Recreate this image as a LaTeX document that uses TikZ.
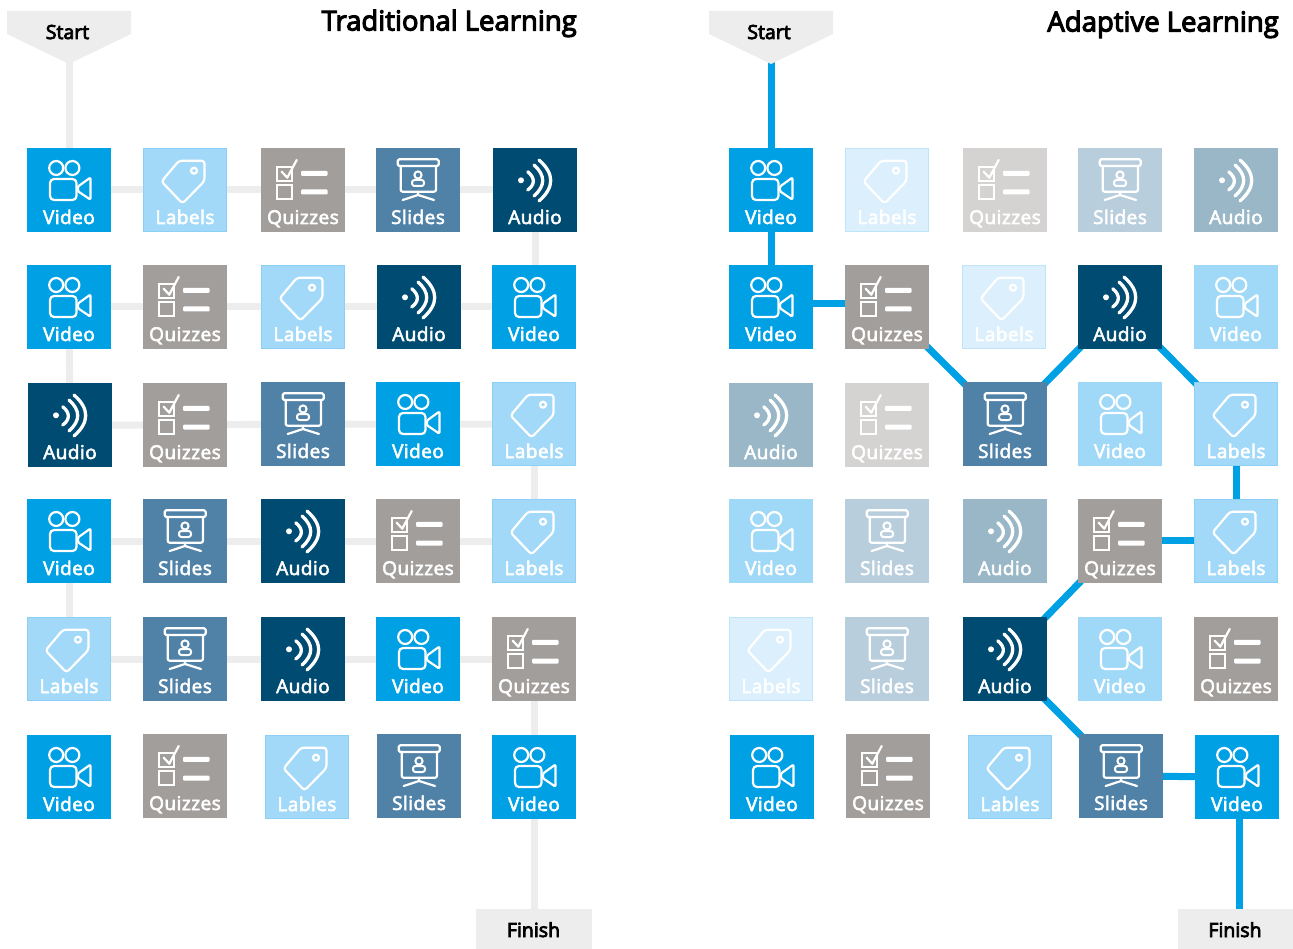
\documentclass[tikz,border=0pt]{standalone}
\usepackage{fontspec}
\setmainfont{Open Sans}
\newfontfamily\headfont[FakeBold=4]{Open Sans}
\newfontfamily\tilefont[FakeBold=3,LetterSpace=2.5]{Open Sans}
\usetikzlibrary{backgrounds}
\definecolor{videoc}{HTML}{00A0E4}
\definecolor{labelc}{HTML}{A3D9F8}
\definecolor{quizc}{HTML}{A29E9C}
\definecolor{slidec}{HTML}{5081A7}
\definecolor{audioc}{HTML}{004B71}
\definecolor{videof}{HTML}{A0D9F7}
\definecolor{labelf}{HTML}{DCEFFC}
\definecolor{quizf}{HTML}{D5D3D2}
\definecolor{slidef}{HTML}{B9CEDD}
\definecolor{audiof}{HTML}{99B7C6}
\definecolor{panelgrey}{HTML}{EDEDED}
\tikzset{
  tilebox/.style={rectangle,anchor=north west,minimum width=84pt,minimum height=84pt,inner sep=0pt,outer sep=0pt},
  tiletext/.style={text=white,font=\tilefont\fontsize{19}{20}\selectfont,inner sep=0pt,anchor=base},
  iconline/.style={draw=white,line width=2.2pt,line join=round,line cap=round},
  markertext/.style={text=black,font=\headfont\fontsize{19.5}{22}\selectfont,inner sep=0pt,anchor=base},
  titletext/.style={text=black,font=\headfont\fontsize{27.5}{28}\selectfont,inner sep=0pt,anchor=base east},
  greyline/.style={draw=panelgrey,line width=7pt},
  blueline/.style={draw=videoc,line width=7pt},
  markerfill/.style={fill=panelgrey,draw=none}
}
\newcommand\iconvideo{%
  \draw[iconline] (29.2,20) circle[radius=7];
  \draw[iconline] (45.4,20) circle[radius=7];
  \draw[iconline,rounded corners=4pt] (23,31) rectangle (49.5,52);
  \draw[iconline,rounded corners=1.2pt] (51,38.5) -- (63.5,29.5) -- (63.5,51.7) -- (51,43.3) -- cycle;
}
\newcommand\iconlabels{%
  \draw[draw=\tilecol!86!videoc,line width=1pt] (0.5,0.5) rectangle (83.5,83.5);
  \draw[iconline,rounded corners=3pt] (61.5,12.7) -- (36,12.7) -- (18.5,33.5) -- (39.5,55.5) -- (61.5,33) -- cycle;
  \draw[iconline] (51,22.7) circle[radius=3];
}
\newcommand\iconquiz{%
  \draw[iconline,line cap=butt,line join=miter] (16.3,18.7) rectangle (31.3,33);
  \draw[iconline,line cap=butt,line join=miter] (16.3,37) rectangle (31.3,51.3);
  \draw[iconline] (20.7,23.7) -- (26.3,29.7) -- (35.7,12);
  \fill[white,rounded corners=1pt] (40,22.8) rectangle (66.5,27.8);
  \fill[white,rounded corners=1pt] (40,41.5) rectangle (66.5,46.5);
}
\newcommand\iconslides{%
  \draw[iconline,rounded corners=1.5pt] (21.7,11.3) rectangle (62.7,18);
  \draw[iconline,rounded corners=2pt] (24.7,18) -- (24.7,43.7) -- (60,43.7) -- (60,18);
  \draw[iconline] (42,43.7) -- (42,47) -- (26.7,52);
  \draw[iconline] (42,47) -- (58,52);
  \draw[iconline,line width=2pt] (42,27) circle[radius=3.6];
  \draw[iconline,line width=2pt,rounded corners=2.5pt] (36,38) -- (36,32) -- (48,32) -- (48,38) -- cycle;
}
\newcommand\iconaudio{%
  \fill[white] (28,32.3) circle[radius=3];
  \draw[iconline,line width=3.3pt] (34.7,23.7) .. controls (42.2,29.8) and (42.2,36.6) .. (34.7,42);
  \draw[iconline,line width=3.3pt] (41,17) .. controls (52.6,27.3) and (52.6,37.7) .. (41,48);
  \draw[iconline,line width=3.3pt] (46,12) .. controls (61.6,25.7) and (61.6,39.3) .. (46,53);
}
% name, left, top, icon, colour, text
\newcommand\tile[6]{%
  \def\tilecol{#5}%
  \node[tilebox,fill=#5] (#1) at (#2,#3) {};
  \begin{scope}[shift={(#2,#3)}]\csname icon#4\endcsname\end{scope}
  \node[tiletext] (#1t) at (#2+42,#3+76) {#6};
}
\begin{document}
\begin{tikzpicture}[x=1pt,y=-1pt]
\useasboundingbox (0,0) rectangle (1293,949);
% ---- left panel
\fill[markerfill] (7,11) -- (131,11) -- (131,34) -- (69,64) -- (7,34) -- cycle;
\node[markertext] (startL) at (67.5,39) {Start};
\node[fill=panelgrey,minimum width=116pt,minimum height=40pt,inner sep=0pt,anchor=north west] (finishL) at (476,909) {};
\node[markertext] (finishLt) at (533.5,937) {Finish};
\node[titletext] (titleL) at (577,30.5) {Traditional Learning};
\tile{a11}{27}{148}{video}{videoc}{Video}
\tile{a12}{143}{148}{labels}{labelc}{Labels}
\tile{a13}{261}{148}{quiz}{quizc}{Quizzes}
\tile{a14}{376}{148}{slides}{slidec}{Slides}
\tile{a15}{493}{148}{audio}{audioc}{Audio}
\tile{a21}{27}{265}{video}{videoc}{Video}
\tile{a22}{143}{265}{quiz}{quizc}{Quizzes}
\tile{a23}{261}{265}{labels}{labelc}{Labels}
\tile{a24}{377}{265}{audio}{audioc}{Audio}
\tile{a25}{492}{265}{video}{videoc}{Video}
\tile{a31}{28}{383}{audio}{audioc}{Audio}
\tile{a32}{143}{383}{quiz}{quizc}{Quizzes}
\tile{a33}{261}{382}{slides}{slidec}{Slides}
\tile{a34}{376}{382}{video}{videoc}{Video}
\tile{a35}{492}{382}{labels}{labelc}{Labels}
\tile{a41}{27}{499}{video}{videoc}{Video}
\tile{a42}{143}{499}{slides}{slidec}{Slides}
\tile{a43}{261}{499}{audio}{audioc}{Audio}
\tile{a44}{376}{499}{quiz}{quizc}{Quizzes}
\tile{a45}{492}{499}{labels}{labelc}{Labels}
\tile{a51}{27}{617}{labels}{labelc}{Labels}
\tile{a52}{143}{617}{slides}{slidec}{Slides}
\tile{a53}{261}{617}{audio}{audioc}{Audio}
\tile{a54}{376}{617}{video}{videoc}{Video}
\tile{a55}{492}{617}{quiz}{quizc}{Quizzes}
\tile{a61}{27}{735}{video}{videoc}{Video}
\tile{a62}{143}{734}{quiz}{quizc}{Quizzes}
\tile{a63}{265}{735}{labels}{labelc}{Lables}
\tile{a64}{377}{734}{slides}{slidec}{Slides}
\tile{a65}{492}{735}{video}{videoc}{Video}
% ---- right panel
\fill[markerfill] (709,11) -- (833,11) -- (833,34) -- (771,64) -- (709,34) -- cycle;
\node[markertext] (startR) at (769,39) {Start};
\node[fill=panelgrey,minimum width=115pt,minimum height=40pt,inner sep=0pt,anchor=north west] (finishR) at (1178,909) {};
\node[markertext] (finishRt) at (1235,937) {Finish};
\node[titletext] (titleR) at (1279,31.5) {Adaptive Learning};
\tile{b11}{729}{148}{video}{videoc}{Video}
\tile{b12}{845}{148}{labels}{labelf}{Labels}
\tile{b13}{963}{148}{quiz}{quizf}{Quizzes}
\tile{b14}{1078}{148}{slides}{slidef}{Slides}
\tile{b15}{1194}{148}{audio}{audiof}{Audio}
\tile{b21}{729}{265}{video}{videoc}{Video}
\tile{b22}{845}{265}{quiz}{quizc}{Quizzes}
\tile{b23}{962}{265}{labels}{labelf}{Labels}
\tile{b24}{1078}{265}{audio}{audioc}{Audio}
\tile{b25}{1194}{265}{video}{videof}{Video}
\tile{b31}{729}{383}{audio}{audiof}{Audio}
\tile{b32}{845}{383}{quiz}{quizf}{Quizzes}
\tile{b33}{963}{382}{slides}{slidec}{Slides}
\tile{b34}{1078}{382}{video}{videof}{Video}
\tile{b35}{1194}{382}{labels}{labelc}{Labels}
\tile{b41}{729}{499}{video}{videof}{Video}
\tile{b42}{845}{499}{slides}{slidef}{Slides}
\tile{b43}{963}{499}{audio}{audiof}{Audio}
\tile{b44}{1078}{499}{quiz}{quizc}{Quizzes}
\tile{b45}{1194}{499}{labels}{labelc}{Labels}
\tile{b51}{729}{617}{labels}{labelf}{Labels}
\tile{b52}{845}{617}{slides}{slidef}{Slides}
\tile{b53}{963}{617}{audio}{audioc}{Audio}
\tile{b54}{1078}{617}{video}{videof}{Video}
\tile{b55}{1194}{617}{quiz}{quizc}{Quizzes}
\tile{b61}{730}{735}{video}{videoc}{Video}
\tile{b62}{846}{734}{quiz}{quizc}{Quizzes}
\tile{b63}{968}{735}{labels}{labelc}{Lables}
\tile{b64}{1079}{734}{slides}{slidec}{Slides}
\tile{b65}{1195}{735}{video}{videoc}{Video}
% ---- connectors
\begin{pgfonlayer}{background}
\draw[greyline] (a11.center |- startL.center) -- (a11.center);
\draw[greyline] (a11) -- (a12) -- (a13) -- (a14) -- (a15);
\draw[greyline] (a15.center) -- (a15.center |- a25.center);
\draw[greyline] (a25) -- (a24) -- (a23) -- (a22) -- (a21);
\draw[greyline] (a21) -- (a31);
\draw[greyline] (a31) -- (a32) -- (a33) -- (a34) -- (a35);
\draw[greyline] (a35) -- (a45);
\draw[greyline] (a45) -- (a44) -- (a43) -- (a42) -- (a41);
\draw[greyline] (a41) -- (a51);
\draw[greyline] (a51) -- (a52) -- (a53) -- (a54) -- (a55);
\draw[greyline] (a55) -- (a65);
\draw[greyline] (a65.center) -- (a65.center |- finishL.center);
\draw[blueline] (b11.center |- startR.center) -- (b11.center);
\draw[blueline] (b11) -- (b21);
\draw[blueline] ([yshift=3pt]b21.center) -- ([yshift=3pt]b22.center);
\draw[blueline] (b22.center) -- (b33.center);
\draw[blueline] (b33.center) -- (b24.center);
\draw[blueline] (b24.center) -- (b35.center);
\draw[blueline] (b35) -- (b45);
\draw[blueline] ([yshift=1pt]b45.center) -- ([yshift=1pt]b44.center);
\draw[blueline] (b44.center) -- (b53.center);
\draw[blueline] (b53.center) -- (b64.center);
\draw[blueline] (b64) -- (b65);
\draw[blueline] ([xshift=2pt]b65.center) -- ([xshift=2pt]b65.center |- finishR.center);
\end{pgfonlayer}
\end{tikzpicture}
\end{document}
